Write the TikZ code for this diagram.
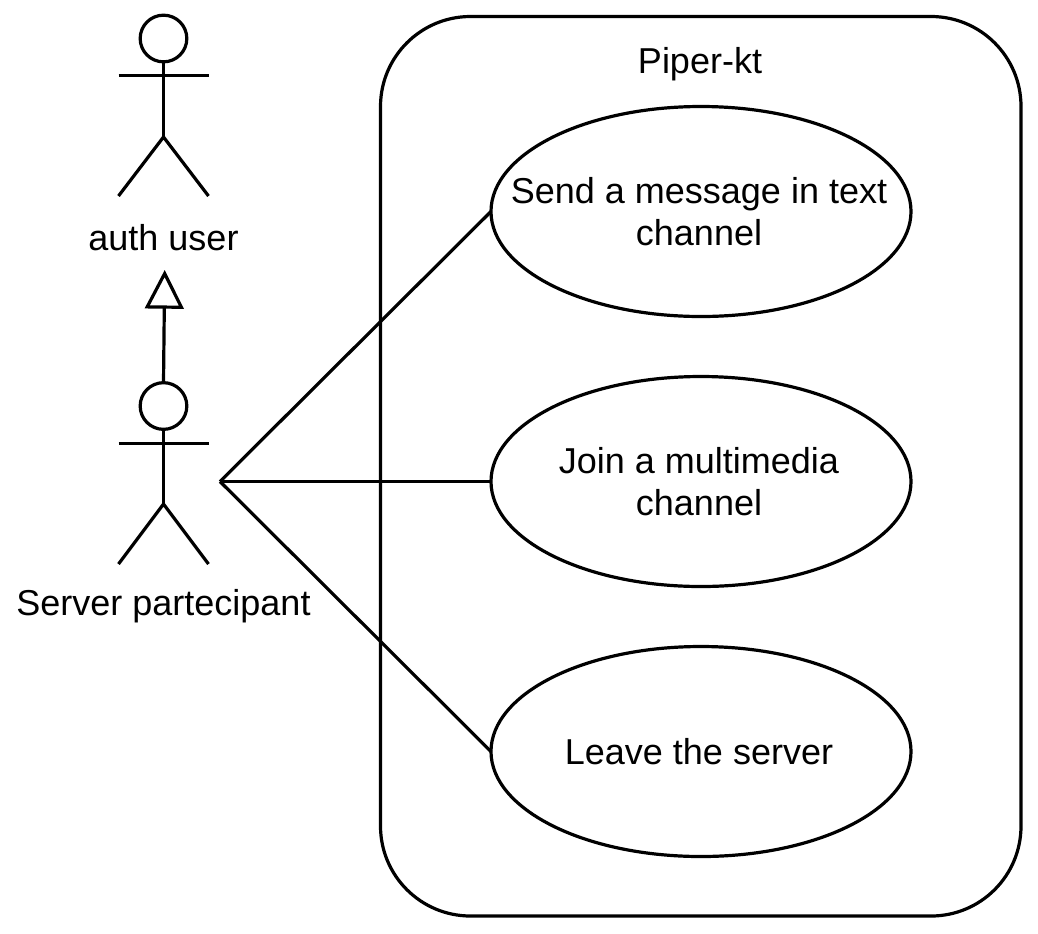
\documentclass[tikz,border=0pt]{standalone}
\usepackage{fontspec}
\setmainfont{Liberation Sans}
\usetikzlibrary{arrows.meta,shapes.geometric}
\newcommand{\nudgeline}{\hspace*{-3pt}}
\tikzset{
  ink/.style={line width=2.4pt,draw=black,line join=round},
  usecase/.style={ink,shape=ellipse,minimum width=315pt,minimum height=157.5pt,inner xsep=-85pt,inner ysep=0pt,outer sep=0pt,align=center,font=\fontsize{27}{31.5}\selectfont},
  lbl/.style={font=\fontsize{27}{31.5}\selectfont,inner sep=0pt,align=center},
  headc/.style={ink,shape=circle,minimum size=35pt,inner sep=0pt,outer sep=0pt},
  gen/.style={draw=black,line width=2.4pt,-{Triangle[open,length=29pt,width=29pt,line width=2.4pt,line join=miter,fill=white]}},
}
\begin{document}
\begin{tikzpicture}[x=0.75pt,y=-0.75pt]
\useasboundingbox (0,0) rectangle (1038,933);
\fill[white] (0,0) rectangle (1038,933);
\draw[ink,rounded corners=67.5pt] (380.5,16.5) rectangle (1021,916);
\node[lbl] (title) at (700,64) {Piper-kt};
\node[usecase] (uc1) at (701,211.5) {\nudgeline Send a message in text\\\nudgeline channel};
\node[usecase] (uc2) at (701,481.5) {\nudgeline Join a multimedia\\\nudgeline channel};
\node[usecase] (uc3) at (701,751.5) {\nudgeline Leave the server};
\node[lbl] (a1) at (163.5,238) {auth user};
\node[lbl] (a2) at (163.5,606) {Server partecipant};
% actor 1
\node[headc] (head1) at (163.5,38.5) {};
\coordinate (hip1) at (163.5,137);
\draw[ink] (head1.south) -- (hip1);
\draw[ink] (118.5,75.5) -- (208.5,75.5);
\draw[ink] (118.5,196) -- (hip1) -- (208.5,196);
% actor 2
\node[headc] (head2) at (163.5,406) {};
\coordinate (hip2) at (163.5,504);
\draw[ink] (head2.south) -- (hip2);
\draw[ink] (118.5,443.5) -- (208.5,443.5);
\draw[ink] (118.5,564) -- (hip2) -- (208.5,564);
% generalization
\coordinate (gentop) at (164.7,270);
\draw[gen] (head2.north) -- (gentop);
% associations
\coordinate (hub) at (220,481.5);
\draw[ink] (hub) -- (uc1.west);
\draw[ink] (hub) -- (uc2.west);
\draw[ink] (hub) -- (uc3.west);
\end{tikzpicture}
\end{document}
